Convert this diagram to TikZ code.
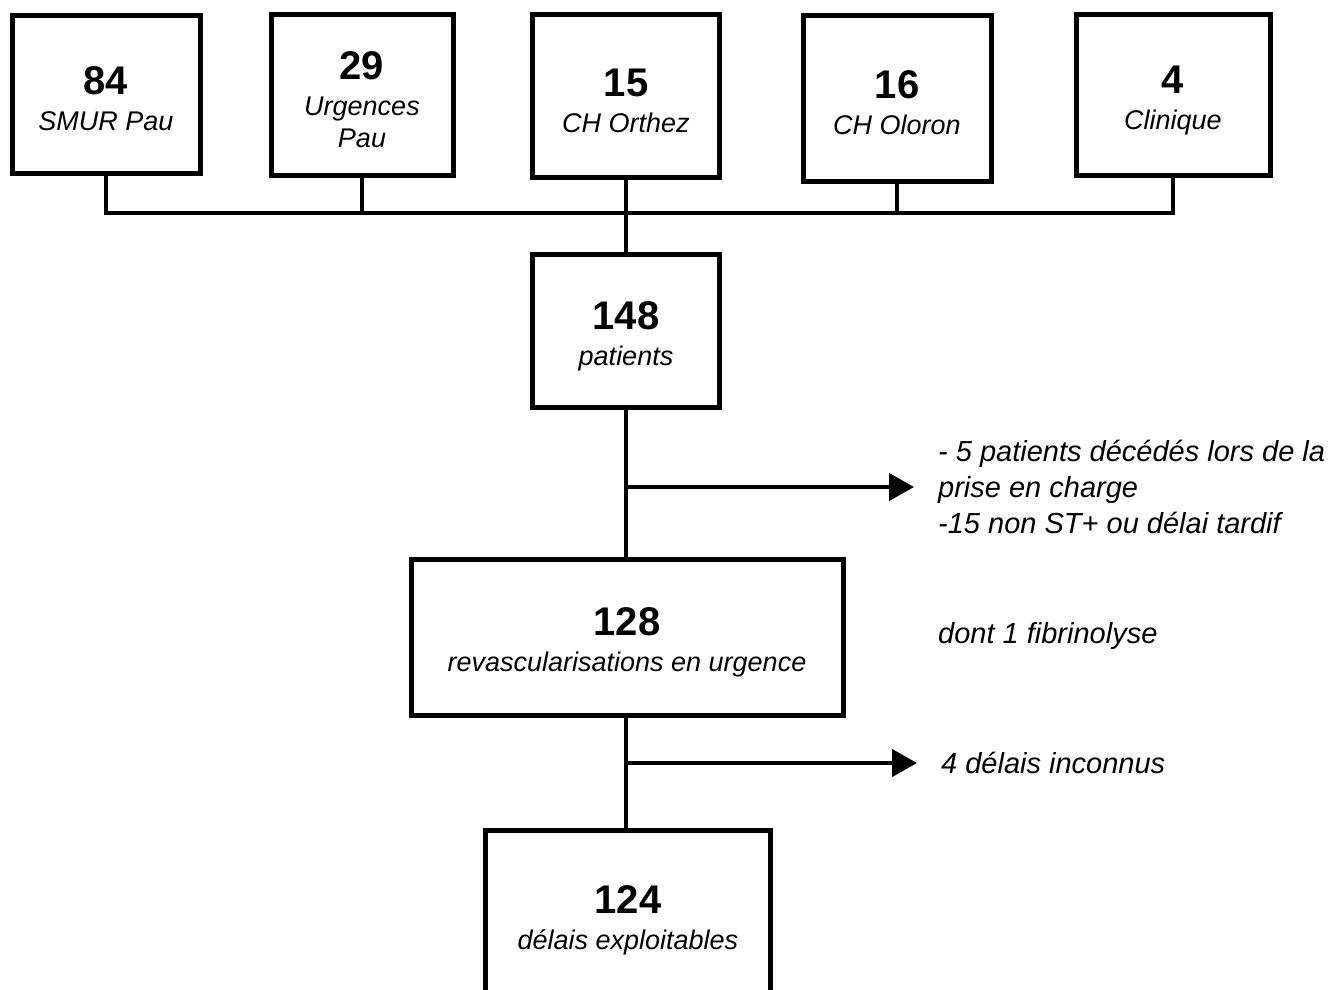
\documentclass[tikz,border=0pt]{standalone}
\usepackage{fontspec}
\setmainfont{Liberation Sans}
\usetikzlibrary{arrows.meta}

\newcommand\tally[1]{{\fontsize{40}{44}\selectfont\upshape\bfseries\rule{0pt}{38pt}#1}}

\begin{document}
\begin{tikzpicture}[x=1pt, y=-1pt]
        \tikzset{
            unit/.style={draw, line width=5pt, inner sep=0pt, align=center, font=\fontsize{27}{32}\selectfont\itshape},
            note/.style={anchor=west, inner xsep=24pt, inner ysep=0pt, align=left, font=\fontsize{29}{36}\selectfont\itshape},
            link/.style={line width=4.5pt},
            cut/.style={link, -{Triangle[length=25pt, width=27pt]}}
        }
        \useasboundingbox (0,0) rectangle (1344,989);

        % Sources
        \node[unit, minimum width=188pt, minimum height=158pt] (smur) at (106,94)
            {\tally{84}\\[4pt]SMUR Pau};
        \node[unit, minimum width=182pt, minimum height=161pt] (urg) at (362,95)
            {\tally{29}\\[4pt]Urgences\\Pau};
        \node[unit, minimum width=187pt, minimum height=163pt] (orthez) at (626,96)
            {\tally{15}\\[4pt]CH Orthez};
        \node[unit, minimum width=188pt, minimum height=166pt] (oloron) at (897,98)
            {\tally{16}\\[4pt]CH Oloron};
        \node[unit, minimum width=194pt, minimum height=161pt] (clinique) at (1173,95)
            {\tally{4}\\[4pt]Clinique};

        % Flow
        \node[unit, minimum width=187pt, minimum height=153pt] (patients) at (626,331)
            {\tally{148}\\[4pt]patients};
        \node[unit, minimum width=432pt, minimum height=156pt] (revasc) at (627,637)
            {\tally{128}\\[4pt]revascularisations en urgence};
        \node[unit, minimum width=285pt, minimum height=170pt] (delais) at (628,915)
            {\tally{124}\\[4pt]délais exploitables};

        % Exclusions
        \node[note] (excl) at (914,487) {- 5 patients décédés lors de la\\prise en charge\\-15 non ST+ ou délai tardif};
        \node[note] (fibrino) at (914,636) {dont 1 fibrinolyse};
        \node[note] (unknown) at (917,763) {4 délais inconnus};

        % Connectors
        \coordinate (hub) at (626,213);
        \draw[link] (smur.south) |- (hub) -| (clinique.south);
        \draw[link] (urg.south) -- (urg.south |- hub);
        \draw[link] (oloron.south) -- (oloron.south |- hub);
        \draw[link] (orthez.south) -- (patients.north);
        \draw[link] (patients.south) -- (patients.south |- revasc.north);
        \draw[link] (patients.south |- revasc.south) -- (patients.south |- delais.north);

        \coordinate (split1) at (626,487);
        \coordinate (split2) at (626,763);
        \draw[cut] (split1) -- (excl.west);
        \draw[cut] (split2) -- (unknown.west);
\end{tikzpicture}
\end{document}
